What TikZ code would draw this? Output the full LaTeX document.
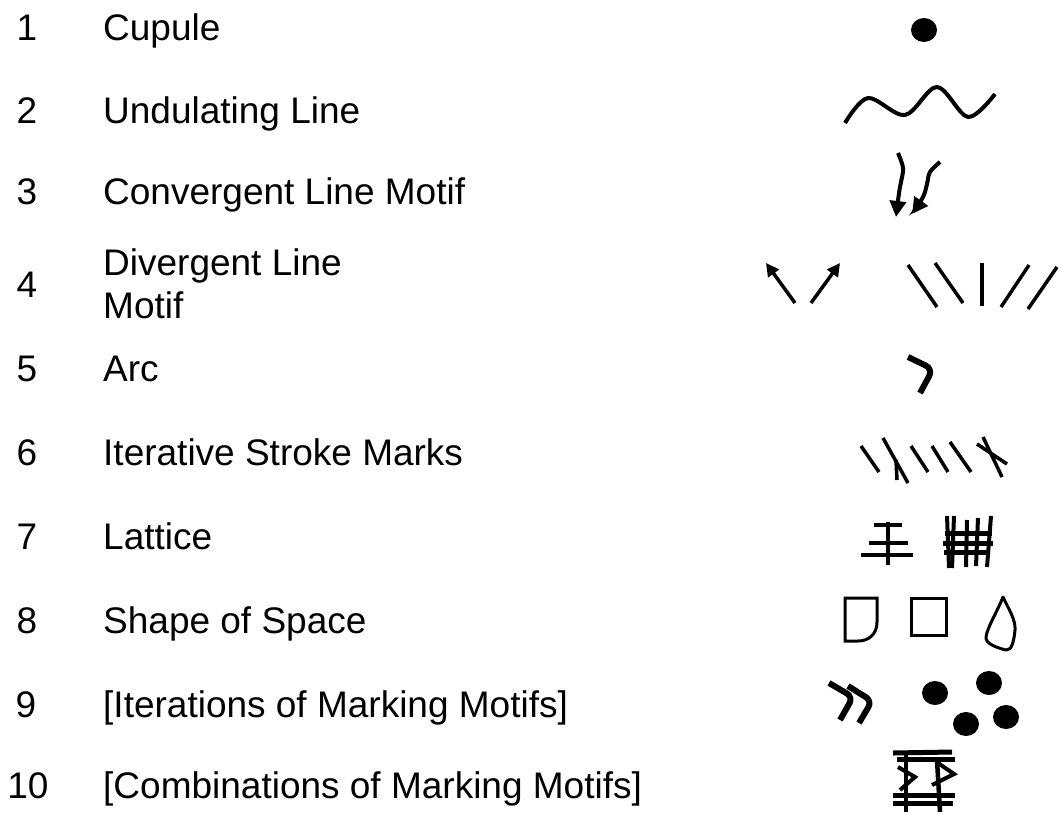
\documentclass[tikz,border=0pt]{standalone}
\usepackage{fontspec}
\setmainfont{Liberation Sans}
\usetikzlibrary{arrows.meta}
\begin{document}
\begin{tikzpicture}[x=1pt,y=-1pt,
  num/.style={anchor=base, inner sep=0pt, font=\fontsize{37}{43}\selectfont},
  lbl/.style={anchor=base west, inner sep=0pt, font=\fontsize{37}{43}\selectfont, align=left},
  thin glyph/.style={line width=3.5pt},
  mid glyph/.style={line width=4pt},
  tipA/.style={-{Triangle[length=16pt,width=16pt]}},
  tipB/.style={-{Triangle[length=13pt,width=13pt]}}
]
\useasboundingbox (0,0) rectangle (1059,814);
% ---- labels ----
\node[num] (n1) at (27,40) {1};   \node[lbl] (l1) at (103,40) {Cupule};
\node[num] (n2) at (27,123) {2};  \node[lbl] (l2) at (103,123) {Undulating Line};
\node[num] (n3) at (27,204) {3};  \node[lbl] (l3) at (103,204) {Convergent Line Motif};
\node[num] (n4) at (27,297) {4};  \node[lbl] (l4) at (103,318) {Divergent Line\\Motif};
\node[num] (n5) at (27,381) {5};  \node[lbl] (l5) at (103,381) {Arc};
\node[num] (n6) at (27,465) {6};  \node[lbl] (l6) at (103,465) {Iterative Stroke Marks};
\node[num] (n7) at (27,549) {7};  \node[lbl] (l7) at (103,549) {Lattice};
\node[num] (n8) at (27,633) {8};  \node[lbl] (l8) at (103,633) {Shape of Space};
\node[num] (n9) at (26,717) {9};  \node[lbl] (l9) at (103,717) {[Iterations of Marking Motifs]};
\node[num] (n10) at (28,798) {10};\node[lbl] (l10) at (103,798) {[Combinations of Marking Motifs]};
% ---- 1 cupule ----
\fill (924,30) ellipse [x radius=13pt, y radius=12pt];
% ---- 2 undulating line ----
\draw[mid glyph, line join=round] plot[smooth, tension=0.55] coordinates {(845,123) (868,98) (905,115) (937,87) (968,117) (995,94)};
% ---- 3 convergent ----
\draw[mid glyph, tipA] plot[smooth, tension=0.6] coordinates {(898,153) (903,168) (901,182) (899,193) (896,217)};
\draw[mid glyph, tipA] plot[smooth, tension=0.6] coordinates {(940,162) (930,172) (927,184) (923,197) (912,214)};
% ---- 4 divergent ----
\draw[thin glyph, tipB] (795,303) -- (766,263);
\draw[thin glyph, tipB] (811,303) -- (840,263);
\draw[thin glyph] (908,265) -- (937,307);
\draw[thin glyph] (935,263) -- (963,303);
\draw[thin glyph] (982,263) -- (982,306);
\draw[thin glyph] (1029,265) -- (1001,307);
\draw[thin glyph] (1057,267) -- (1028,309);
% ---- 5 arc ----
\draw[line width=6pt, rounded corners=8pt] (908,357) -- (933,369) -- (920,393);
% ---- 6 iterative strokes ----
\draw[thin glyph] (861,446) -- (879,472);
\draw[thin glyph] (883,438) -- (908,483);
\draw[thin glyph] (896,460) -- (897,480);
\draw[thin glyph] (911,446) -- (928,472);
\draw[thin glyph] (932,446) -- (948,472);
\draw[thin glyph] (950,442) -- (971,472);
\draw[thin glyph] (983,437) -- (1002,477);
\draw[thin glyph] (977,444) -- (1007,464);
% ---- 7 lattice ----
\draw[thin glyph] (888,522) -- (888,565);
\draw[thin glyph] (874,525) -- (902,525);
\draw[thin glyph] (869,543) -- (908,543);
\draw[thin glyph] (861,555) -- (913,555);
\draw[mid glyph] (947,516) -- (949,568);
\draw[mid glyph] (954,516) -- (952,568);
\draw[mid glyph] (967,520) -- (966,567);
\draw[mid glyph] (978,518) -- (976,566);
\draw[mid glyph] (991,516) -- (987,567);
\draw[line width=5pt] (945,533) -- (992,533);
\draw[line width=5pt] (943,543) -- (993,543);
\draw[line width=5pt] (944,552) -- (990,552);
% ---- 8 shape of space ----
\draw[line width=3pt] (845,598) -- (877,598) -- (877,622) .. controls (877,634) and (869,641) .. (858,641) -- (845,641) -- cycle;
\draw[line width=3pt] (911,598) rectangle (946,635);
\draw[line width=3pt, line join=round] (1003,597) .. controls (997,612) and (987,628) .. (986,637)
  .. controls (985,644) and (998,648) .. (1006,650)
  .. controls (1012,651) and (1014,640) .. (1015,630)
  .. controls (1016,620) and (1008,608) .. (1003,597) -- cycle;
% ---- 9 iterations ----
\draw[line width=6pt, rounded corners=7pt] (829,683) -- (853,697) -- (840,720);
\draw[line width=6pt, rounded corners=7pt] (848,686) -- (872,701) -- (859,723);
\fill (935,693) ellipse [x radius=13pt, y radius=12pt];
\fill (989,683) ellipse [x radius=13pt, y radius=12pt];
\fill (966,724) ellipse [x radius=13pt, y radius=12pt];
\fill (1006,717) ellipse [x radius=13pt, y radius=12pt];
% ---- 10 combinations ----
\draw[line width=5pt] (893,753) -- (952,752);
\draw[line width=5pt] (897,759) -- (955,759);
\draw[line width=5pt] (893,795) -- (955,795);
\draw[line width=5pt] (893,803) -- (953,803);
\draw[line width=4.5pt] (906,753) -- (906,812);
\draw[line width=4.5pt] (937,760) -- (940,812);
\draw[line width=4pt] (898,767) -- (915,777) -- (900,790);
\draw[line width=4pt] (938,763) -- (954,774) -- (932,785);
\end{tikzpicture}
\end{document}
